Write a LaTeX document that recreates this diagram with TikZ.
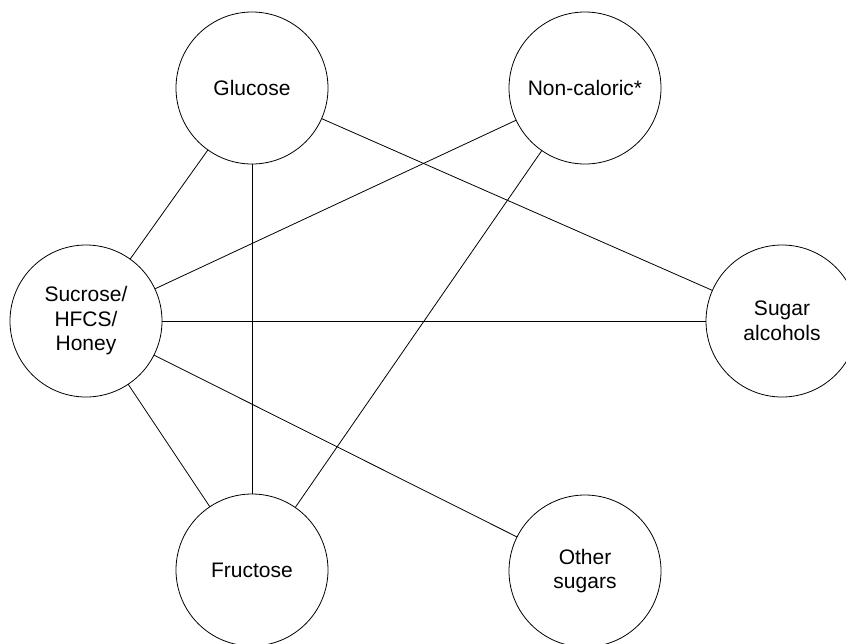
\documentclass[tikz,border=0pt]{standalone}
\usepackage{fontspec}
\setmainfont{Liberation Sans}
\usepackage{tikz}
\usepackage{tkz-graph}

\begin{document}
\begin{tikzpicture}[scale=2.636]
        \useasboundingbox (0,0) rectangle (8.46,-6.43);
        \GraphInit[vstyle=Normal]
        \tikzset{VertexStyle/.style={draw,circle,line width=0.6pt,
            minimum size=114pt,inner sep=0pt,align=center,
            font=\fontsize{15.75}{18.4}\selectfont}}
        \tikzset{EdgeStyle/.style={draw,line width=0.6pt,black}}
        \Vertex[x=2.52,y=-0.88,L={Glucose}]{Glu}
        \Vertex[x=5.85,y=-0.88,L={Non-caloric*}]{Non}
        \Vertex[x=0.86,y=-3.21,L={Sucrose/\\HFCS/\\Honey}]{Suc}
        \Vertex[x=7.82,y=-3.21,L={Sugar\\alcohols}]{Alc}
        \Vertex[x=2.52,y=-5.70,L={Fructose}]{Fru}
        \Vertex[x=5.85,y=-5.71,L={Other\\sugars}]{Oth}
        \Edge(Glu)(Suc)
        \Edge(Glu)(Fru)
        \Edge(Glu)(Alc)
        \Edge(Non)(Suc)
        \Edge(Non)(Fru)
        \Edge(Suc)(Alc)
        \Edge(Suc)(Oth)
        \Edge(Suc)(Fru)
    \end{tikzpicture}
\end{document}
